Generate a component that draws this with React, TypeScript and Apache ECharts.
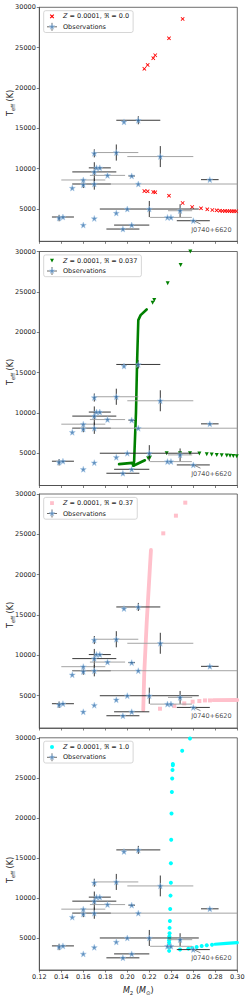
import React, { useEffect, useRef } from "react";
import * as echarts from "echarts";

// ---------------- data ----------------
const X_TICKS = [0.12, 0.14, 0.16, 0.18, 0.2, 0.22, 0.24, 0.26, 0.28, 0.3];
const Y_TICKS = [5000, 10000, 15000, 20000, 25000, 30000];

// observations: [M2, Teff, xerrLow, xerrHigh, yerr, hColor(0 dark / 1 gray)]
const OBS: number[][] = [
  [0.197, 15800, 0, 0, 0, 0],
  [0.21, 16000, 0.02, 0.02, 500, 0],
  [0.17, 11900, 0, 0, 500, 0],
  [0.19, 12000, 0.02, 0.02, 1000, 1],
  [0.23, 11500, 0.03, 0.03, 1300, 1],
  [0.172, 10100, 0, 0, 0, 0],
  [0.175, 10100, 0.01, 0.01, 0, 0],
  [0.17, 9600, 0.02, 0.02, 1200, 0],
  [0.182, 9170, 0.016, 0.016, 0, 1],
  [0.204, 9100, 0.003, 0.003, 0, 0],
  [0.16, 8600, 0.02, 0.02, 0, 1],
  [0.16, 8000, 0, 0, 400, 0],
  [0.17, 8100, 0.02, 0.015, 700, 0],
  [0.21, 8100, 0.06, 0.09, 0, 1],
  [0.15, 7600, 0, 0, 0, 0],
  [0.275, 8640, 0.008, 0.008, 0, 0],
  [0.19, 4500, 0, 0, 0, 0],
  [0.2, 5000, 0, 0, 0, 0],
  [0.22, 5000, 0.045, 0.045, 1000, 0],
  [0.138, 3880, 0, 0, 400, 0],
  [0.1415, 4010, 0.01, 0.01, 0, 0],
  [0.17, 3830, 0, 0, 0, 0],
  [0.16, 3010, 0, 0, 0, 0],
  [0.204, 3010, 0.016, 0.016, 0, 0],
  [0.196, 2520, 0.015, 0.015, 0, 0],
  [0.248, 4790, 0.011, 0.011, 800, 1],
  [0.2365, 3960, 0, 0, 0, 0],
  [0.2397, 3960, 0.019, 0.019, 0, 1],
  [0.26, 3550, 0.015, 0.015, 0, 0],
];

const LABEL_POS = [0.2576, 2445];
const ARROW = [[0.2665, 3150], [0.2615, 3470]];

const MODEL_NAMES = [
  "Z = 0.0001, ℜ = 0.0",
  "Z = 0.0001, ℜ = 0.037",
  "Z = 0.0001, ℜ = 0.37",
  "Z = 0.0001, ℜ = 1.0",
];

// panel 1 (red x)
const RED_PTS = [
  [0.2155, 22370], [0.2185, 22860], [0.2236, 23690], [0.2254, 24060], [0.2379, 26160], [0.2503, 28560],
  [0.2155, 7230], [0.2185, 7190], [0.2236, 7110], [0.2254, 7065], [0.2379, 6650], [0.2503, 5745],
  [0.259, 5250], [0.267, 5085], [0.2727, 4960], [0.2773, 4880], [0.2812, 4840], [0.2842, 4790],
  [0.2865, 4770], [0.2888, 4760], [0.291, 4750], [0.293, 4740], [0.295, 4735], [0.297, 4730], [0.299, 4725],
];

// panel 2 (green triangles)
const GREEN_PTS = [
  [0.2573, 30000], [0.2485, 28340], [0.2367, 26055], [0.2245, 23980], [0.223, 23650],
  [0.219, 4380], [0.2206, 4460],
  [0.2358, 5000], [0.2479, 5000], [0.257, 5000], [0.2655, 4980], [0.2722, 4870], [0.2767, 4830],
  [0.2813, 4790], [0.2858, 4750], [0.2904, 4710], [0.2934, 4680], [0.2964, 4660], [0.2995, 4630],
];
const GREEN_TRACK_A = [
  [0.2176, 22815], [0.2121, 22110], [0.21, 21490], [0.2089, 16300], [0.2079, 10065], [0.2062, 4000], [0.2055, 3450],
];
const GREEN_TRACK_B = [[0.1925, 3650], [0.2045, 3800], [0.2055, 3450], [0.216, 4130]];

// panel 3 (pink squares)
const PINK_PTS = [
  [0.2527, 28926], [0.2442, 27314], [0.2327, 25124],
  [0.2297, 3390], [0.2427, 3720], [0.2518, 4050], [0.2594, 4260], [0.2655, 4340], [0.2706, 4420], [0.2751, 4420],
];
const PINK_TRACK = [[0.2215, 23058], [0.2206, 20992], [0.2176, 13968], [0.2154, 7770], [0.2145, 3225]];
const PINK_TAIL = [[0.278, 4450], [0.3, 4470]];

// panel 4 (cyan circles)
const CYAN_PTS = [
  [0.257, 29900], [0.2499, 28390], [0.2414, 26740], [0.2414, 26570], [0.2411, 25990], [0.2408, 24920],
  [0.2405, 23220], [0.2402, 20540], [0.2399, 17270], [0.2396, 14340], [0.2396, 11900], [0.2393, 10290],
  [0.239, 8620], [0.2387, 7110], [0.2384, 6260], [0.2384, 5600], [0.2382, 5200], [0.2382, 4900],
  [0.238, 4700], [0.238, 4420], [0.238, 4090], [0.238, 3800], [0.238, 3390],
  [0.2479, 3550], [0.2555, 3670], [0.259, 3760], [0.263, 3880], [0.2676, 4000], [0.2722, 4090], [0.277, 4150],
];
const CYAN_TAIL = [[0.2797, 4215], [0.2900, 4320], [0.3, 4420]];

// ---------------- styling helpers ----------------
const FONT = "DejaVu Sans";
const TOPS = [7.3, 251.5, 494, 737.8];
const GRID_H = 234;
const GRID_LEFT = 39.3;
const GRID_W = 198;
const DARK = "#222";
const GRAY = "#9a9a9a";
const FRAME = "#4a4a4a";

const STAR_D =
  "M10 5 L11.18 8.38 L14.76 8.45 L11.9 10.62 L12.94 14.05 L10 12 L7.06 14.05 L8.1 10.62 L5.24 8.45 L8.82 8.38 Z";
const STAR = "path://" + STAR_D;
const XMARK = "path://M0,1.5 L1.5,0 L5,3.5 L8.5,0 L10,1.5 L6.5,5 L10,8.5 L8.5,10 L5,6.5 L1.5,10 L0,8.5 L3.5,5 Z";
const TRI_DOWN = "path://M0,0 L10,0 L5,9 Z";

function svgIcon(inner: string) {
  const s = `<svg xmlns='http://www.w3.org/2000/svg' width='12' height='9' viewBox='0 0 12 9'>${inner}</svg>`;
  return "image://data:image/svg+xml;charset=utf-8," + encodeURIComponent(s);
}
const ICONS = [
  svgIcon("<path d='M4.2 2.7 L7.8 6.3 M7.8 2.7 L4.2 6.3' stroke='red' stroke-width='1.2'/>"),
  svgIcon("<polygon points='4,2.7 8,2.7 6,6.3' fill='green'/>"),
  svgIcon("<rect x='4.1' y='2.6' width='3.8' height='3.8' fill='pink'/>"),
  svgIcon("<circle cx='6' cy='4.5' r='2' fill='cyan'/>"),
];
const OBS_ICON = svgIcon(
  `<path d='M1 4.5 H11 M6 0.5 V8.5' stroke='#333' stroke-width='0.9'/><path transform='translate(6 4.5) scale(0.62) translate(-10 -10)' d='${STAR_D}' fill='#3b75af' stroke='#a6c8e8' stroke-width='0.8'/>`
);

function buildOption() {
  const grid: any[] = [];
  const xAxis: any[] = [];
  const yAxis: any[] = [];
  const series: any[] = [];
  const legend: any[] = [];
  const graphic: any[] = [];
  const ylabelY = [103, 372, 615, 870];

  const markerDefs = [
    { symbol: XMARK, color: "red", size: 4, rotate: 0 },
    { symbol: TRI_DOWN, color: "green", size: 4, rotate: 0 },
    { symbol: "rect", color: "pink", size: 4, rotate: 0 },
    { symbol: "circle", color: "cyan", size: 4, rotate: 0 },
  ];
  const modelPts = [RED_PTS, GREEN_PTS, PINK_PTS, CYAN_PTS];

  for (let i = 0; i < 4; i++) {
    grid.push({
      left: GRID_LEFT,
      top: TOPS[i],
      width: GRID_W,
      height: GRID_H,
      show: true,
      borderColor: FRAME,
      borderWidth: 0.8,
      backgroundColor: "transparent",
    });
    xAxis.push({
      type: "value",
      gridIndex: i,
      min: 0.12,
      max: 0.3,
      axisLine: { show: true, onZero: false, lineStyle: { color: FRAME, width: 0.8 } },
      axisTick: { show: true, length: 2.5, customValues: X_TICKS, lineStyle: { color: FRAME, width: 0.7 } },
      axisLabel: {
        show: i === 3,
        customValues: X_TICKS,
        formatter: (v: number) => v.toFixed(2),
        fontSize: 6.5,
        color: DARK,
        fontFamily: FONT,
        margin: 3.5,
      },
      splitLine: { show: false },
      name: i === 3 ? "{i|M}{s|2}{n| (}{i|M}{s|⊙}{n|)}" : "",
      nameLocation: "middle",
      nameGap: 15,
      nameTextStyle: {
        fontFamily: FONT,
        color: DARK,
        rich: {
          i: { fontStyle: "italic", fontSize: 8, fontFamily: FONT, color: DARK, lineHeight: 11 },
          n: { fontSize: 8, fontFamily: FONT, color: DARK, lineHeight: 11 },
          s: { fontSize: 5.5, fontFamily: FONT, color: DARK, verticalAlign: "bottom", lineHeight: 11 },
        },
      },
    });
    yAxis.push({
      type: "value",
      gridIndex: i,
      min: 1000,
      max: 30000,
      axisLine: { show: true, onZero: false, lineStyle: { color: FRAME, width: 0.8 } },
      axisTick: { show: true, length: 2.5, customValues: Y_TICKS, lineStyle: { color: FRAME, width: 0.7 } },
      axisLabel: {
        customValues: Y_TICKS,
        formatter: (v: number) => String(v),
        fontSize: 6.5,
        color: DARK,
        fontFamily: FONT,
        margin: 3.5,
      },
      splitLine: { show: false },
    });

    const md = markerDefs[i];
    // model tracks (lines)
    if (i === 1) {
      [GREEN_TRACK_A, GREEN_TRACK_B].forEach((tr, k) => {
        series.push({
          type: "line",
          name: "track-g" + k,
          xAxisIndex: i,
          yAxisIndex: i,
          data: tr,
          showSymbol: false,
          symbol: "none",
          lineStyle: { color: "green", width: 2.6, cap: "round", join: "round" },
          z: 2,
        });
      });
    }
    if (i === 2) {
      [PINK_TRACK, PINK_TAIL].forEach((tr, k) => {
        series.push({
          type: "line",
          name: "track-p" + k,
          xAxisIndex: i,
          yAxisIndex: i,
          data: tr,
          showSymbol: false,
          symbol: "none",
          lineStyle: { color: "pink", width: 3.8, cap: "round", join: "round" },
          z: 2,
        });
      });
    }
    if (i === 3) {
      series.push({
        type: "line",
        name: "track-c",
        xAxisIndex: i,
        yAxisIndex: i,
        data: CYAN_TAIL,
        showSymbol: false,
        symbol: "none",
        lineStyle: { color: "cyan", width: 3.2, cap: "round", join: "round" },
        z: 2,
      });
    }
    // model markers
    series.push({
      type: "scatter",
      name: MODEL_NAMES[i],
      xAxisIndex: i,
      yAxisIndex: i,
      data: modelPts[i],
      symbol: md.symbol,
      symbolSize: md.size,
      itemStyle: { color: md.color, opacity: 1 },
      z: 2,
    });

    // error bars
    series.push({
      type: "custom",
      name: "obs-err",
      xAxisIndex: i,
      yAxisIndex: i,
      data: OBS,
      encode: { x: 0, y: 1 },
      clip: true,
      z: 3,
      renderItem: (params: any, api: any) => {
        const m = api.value(0);
        const t = api.value(1);
        const xl = api.value(2);
        const xh = api.value(3);
        const ye = api.value(4);
        const hc = api.value(5);
        const children: any[] = [];
        if (xl + xh > 0) {
          const a = api.coord([m - xl, t]);
          const b = api.coord([m + xh, t]);
          children.push({
            type: "line",
            shape: { x1: a[0], y1: a[1], x2: b[0], y2: b[1] },
            style: { stroke: hc ? GRAY : DARK, lineWidth: 0.9 },
          });
        }
        if (ye > 0) {
          const a = api.coord([m, t - ye]);
          const b = api.coord([m, t + ye]);
          children.push({
            type: "line",
            shape: { x1: a[0], y1: a[1], x2: b[0], y2: b[1] },
            style: { stroke: DARK, lineWidth: 0.9 },
          });
        }
        return { type: "group", children };
      },
    });

    // observation stars
    series.push({
      type: "scatter",
      name: "Observations",
      xAxisIndex: i,
      yAxisIndex: i,
      data: OBS.map((d) => [d[0], d[1]]),
      symbol: STAR,
      symbolSize: 6,
      itemStyle: { color: "#3b75af", borderColor: "#a6c8e8", borderWidth: 0.6 },
      z: 4,
      markLine: {
        silent: true,
        symbol: ["none", "arrow"],
        symbolSize: [0, 4],
        label: { show: false },
        lineStyle: { color: "#333", width: 0.6, type: "solid" },
        data: [[{ coord: ARROW[0] }, { coord: ARROW[1] }]],
      },
    });

    // label
    series.push({
      type: "scatter",
      name: "annot",
      xAxisIndex: i,
      yAxisIndex: i,
      data: [LABEL_POS],
      symbolSize: 1,
      itemStyle: { color: "rgba(0,0,0,0)" },
      label: {
        show: true,
        position: "right",
        distance: 0,
        formatter: "J0740+6620",
        fontSize: 6.5,
        fontFamily: FONT,
        color: DARK,
      },
      z: 5,
    });

    legend.push({
      orient: "vertical",
      left: 43.7,
      top: TOPS[i] + 3.4,
      data: [
        { name: MODEL_NAMES[i], icon: ICONS[i] },
        { name: "Observations", icon: OBS_ICON },
      ],
      itemWidth: 12,
      itemHeight: 9,
      itemGap: 1.4,
      padding: [1.2, 4, 1.2, 2.3],
      backgroundColor: "rgba(255,255,255,0.8)",
      borderColor: "#cccccc",
      borderWidth: 0.8,
      borderRadius: 2,
      selectedMode: false,
      formatter: (name: string) =>
        name === "Observations" ? "{n|Observations}" : "{i|Z}{n|" + name.slice(1) + "}",
      textStyle: {
        fontFamily: FONT,
        fontSize: 6.5,
        color: DARK,
        rich: {
          i: { fontStyle: "italic", fontSize: 6.5, fontFamily: FONT, color: DARK },
          n: { fontSize: 6.5, fontFamily: FONT, color: DARK },
        },
      },
    });

    graphic.push({
      type: "text",
      x: 10,
      y: ylabelY[i],
      rotation: Math.PI / 2,
      style: {
        text: "{t|T}{s|eff}{t| (K)}",
        textAlign: "center",
        textVerticalAlign: "middle",
        fill: DARK,
        rich: {
          t: { fontSize: 8, fontFamily: FONT, fill: DARK, lineHeight: 11 },
          s: { fontSize: 5.5, fontFamily: FONT, fill: DARK, verticalAlign: "bottom", lineHeight: 11 },
        },
      },
    });
  }

  return {
    animation: false,
    backgroundColor: "#ffffff",
    textStyle: { fontFamily: FONT },
    grid,
    xAxis,
    yAxis,
    series,
    legend,
    graphic,
  };
}

export default function App() {
  const ref = useRef<HTMLDivElement | null>(null);
  useEffect(() => {
    document.body.style.margin = "0";
    const chart = echarts.init(ref.current as HTMLDivElement, null, { renderer: "svg" });
    chart.setOption(buildOption() as any);
    return () => chart.dispose();
  }, []);
  return <div ref={ref} style={{ width: 249, height: 997 }} />;
}
